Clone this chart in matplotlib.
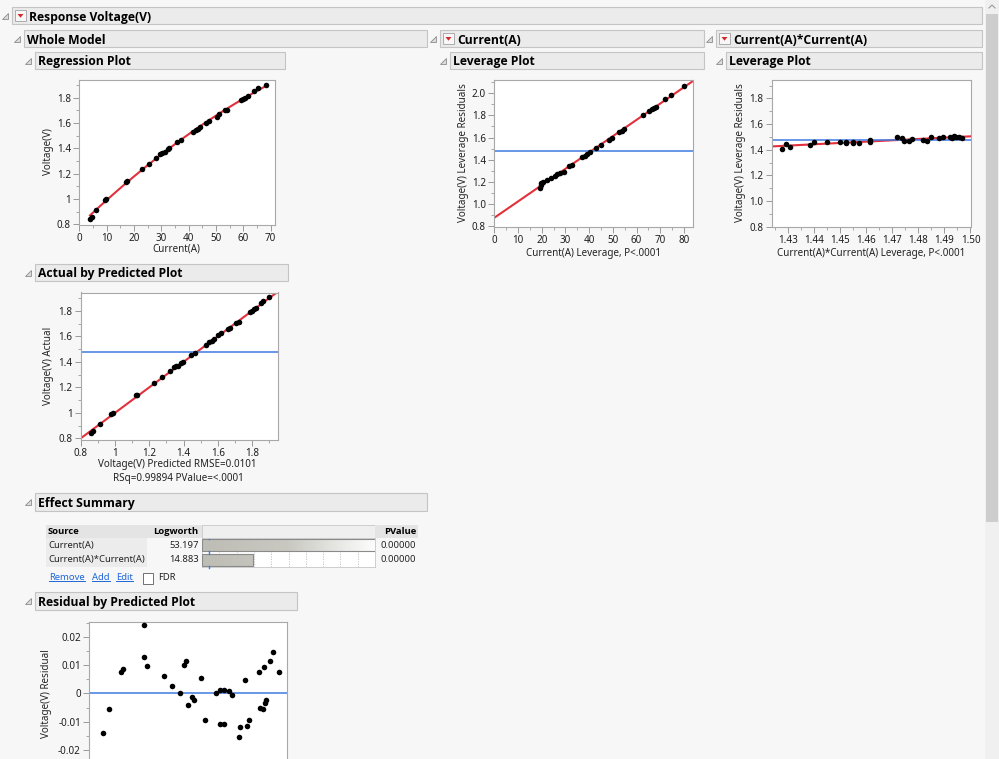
import numpy as np
import matplotlib
matplotlib.use("Agg")
import matplotlib.pyplot as plt
from matplotlib.patches import Rectangle, Polygon
from matplotlib.lines import Line2D
from matplotlib.ticker import MultipleLocator, AutoMinorLocator, FuncFormatter

# regression plot: Current(A) vs Voltage(V)
reg_current = [3.9, 4.5, 6.1, 9.3, 9.9, 17.0, 17.6, 22.9, 25.5, 28.1, 29.7, 30.3, 31.2, 32.4,
               33.0, 35.8, 37.2, 41.5, 42.7, 43.3, 44.1, 46.3, 47.5, 50.3, 51.2, 53.2, 54.2,
               59.0, 60.0, 60.8, 61.7, 63.9, 65.5, 68.4]
reg_voltage = [0.846, 0.862, 0.915, 0.995, 1.005, 1.138, 1.146, 1.238, 1.278, 1.323, 1.358, 1.366,
               1.371, 1.392, 1.403, 1.450, 1.464, 1.530, 1.543, 1.556, 1.570, 1.601, 1.615, 1.649,
               1.668, 1.702, 1.707, 1.781, 1.789, 1.800, 1.813, 1.853, 1.874, 1.900]

# actual by predicted
avp_pred = [0.86, 0.874, 0.913, 0.977, 0.99, 1.122, 1.13, 1.227, 1.276, 1.32, 1.344, 1.353, 1.365,
            1.384, 1.398, 1.441, 1.466, 1.53, 1.55, 1.563, 1.577, 1.602, 1.617, 1.66, 1.67, 1.703,
            1.724, 1.786, 1.8, 1.812, 1.821, 1.849, 1.864, 1.895]
avp_actual = [0.838, 0.859, 0.911, 0.990, 1.0, 1.139, 1.141, 1.235, 1.28, 1.327, 1.356, 1.366, 1.369,
              1.39, 1.40, 1.455, 1.465, 1.533, 1.552, 1.562, 1.575, 1.607, 1.622, 1.656, 1.661, 1.706,
              1.711, 1.787, 1.797, 1.816, 1.824, 1.863, 1.873, 1.91]
mean_voltage = 1.474

# leverage plot, Current(A)
lev1_x = [19.4, 19.6, 19.8, 20.6, 22.2, 24.1, 25.5, 26.4, 27.6, 29.2, 31.3, 32.9, 36.9, 38.3, 39.2,
          40.4, 42.9, 44.8, 48.5, 49.5, 52.7, 53.8, 54.8, 62.8, 65.3, 66.3, 67.4, 68.1, 71.9, 74.4, 80.0]
lev1_y = [1.141, 1.171, 1.186, 1.201, 1.216, 1.231, 1.255, 1.267, 1.279, 1.291, 1.340, 1.349, 1.421,
          1.436, 1.448, 1.466, 1.508, 1.533, 1.578, 1.593, 1.653, 1.659, 1.674, 1.804, 1.840, 1.858,
          1.867, 1.873, 1.946, 1.985, 2.066]

# leverage plot, Current(A)*Current(A)
lev2_x = [1.4277, 1.429, 1.4305, 1.4382, 1.4398, 1.4449, 1.450, 1.4523, 1.4523, 1.4549, 1.455,
          1.457, 1.4612, 1.4612, 1.4717, 1.4736, 1.4745, 1.4762, 1.4777, 1.4819, 1.4834, 1.4848,
          1.4879, 1.4893, 1.4921, 1.4927, 1.4938, 1.4945, 1.4957, 1.4966]
lev2_y = [1.405, 1.442, 1.421, 1.436, 1.457, 1.460, 1.460, 1.462, 1.449, 1.462, 1.451, 1.455, 1.473,
          1.457, 1.499, 1.488, 1.470, 1.470, 1.486, 1.475, 1.470, 1.499, 1.490, 1.496, 1.496, 1.488,
          1.504, 1.501, 1.499, 1.494]

# residual by predicted
res_pred = [0.878, 0.917, 0.983, 0.995, 1.121, 1.121, 1.135, 1.232, 1.28, 1.327, 1.349, 1.362, 1.374,
            1.397, 1.407, 1.451, 1.474, 1.536, 1.558, 1.562, 1.581, 1.581, 1.61, 1.63, 1.669, 1.678,
            1.707, 1.717, 1.727, 1.789, 1.791, 1.808, 1.818, 1.82, 1.829, 1.853, 1.868, 1.901]
res_resid = [-0.0141, -0.0054, 0.0076, 0.0085, 0.024, 0.0127, 0.0096, 0.0061, 0.0025, 0.0, 0.010,
             0.0114, -0.0041, -0.0013, -0.0024, 0.0056, -0.0092, 0.0002, 0.0012, -0.0108, -0.0108,
             0.0012, 0.0008, -0.0004, -0.0155, -0.0118, 0.0049, -0.0115, -0.0094, 0.0076, -0.0051,
             -0.0055, 0.0092, -0.0033, -0.0024, 0.0114, 0.0147, 0.0074]

# effect summary
effect_sources = ["Current(A)", "Current(A)*Current(A)"]
effect_logworth = [53.197, 14.883]
effect_pvalue = ["0.00000", "0.00000"]

W, H = 999, 759
plt.rcParams["font.family"] = ["Noto Sans", "DejaVu Sans"]
BOLD = ["Open Sans", "Roboto", "DejaVu Sans"]
fig = plt.figure(figsize=(W / 100, H / 100), dpi=100, facecolor="#f7f7f7")

RED = "#e2303c"
BLUE = "#3f7be0"
FS = 7.1
TFS = 6.8
DOT = 16


def fbox(l, t, r, b):
    return [l / W, 1 - b / H, (r - l) / W, (b - t) / H]


def rect(l, t, r, b, fc, ec="none", lw=0.8, z=1):
    fig.add_artist(Rectangle((l / W, 1 - b / H), (r - l) / W, (b - t) / H,
                             transform=fig.transFigure, fc=fc, ec=ec, lw=lw, zorder=z))


def poly(pts, fc, ec="none", lw=0.6):
    fig.add_artist(Polygon([(x / W, 1 - y / H) for x, y in pts], closed=True,
                           transform=fig.transFigure, fc=fc, ec=ec, lw=lw, zorder=2))


def ftext(x, y, s, **kw):
    kw.setdefault("fontsize", FS)
    kw.setdefault("color", "#222222")
    return fig.text(x / W, 1 - y / H, s, **kw)


def header(l, t, r, b, title, menu=False):
    rect(l, t, r, b, "#ebebeb", "#c4c4c4")
    cy = (t + b) / 2
    cx = l - 7
    poly([(cx + 3, cy - 3), (cx + 3, cy + 3), (cx - 3, cy + 3)], "#dcdcdc", "#8c8c8c")
    tx = l + 3
    if menu:
        rect(l + 3, cy - 5.5, l + 14, cy + 5.5, "#f7f7f7", "#a0a0a0", lw=0.6, z=2)
        poly([(l + 5.5, cy - 1.5), (l + 11.5, cy - 1.5), (l + 8.5, cy + 2.2)], "#d42a2a")
        tx = l + 17
    ftext(tx, cy, title, fontsize=8.7, fontweight="bold", family=BOLD,
          va="center_baseline", ha="left", color="black")


def plot_axes(l, t, r, b):
    ax = fig.add_axes(fbox(l, t, r, b), facecolor="white")
    for s in ax.spines.values():
        s.set_color("#a8a8a8")
        s.set_linewidth(0.8)
    ax.tick_params(which="major", direction="out", length=4, width=0.7, color="#9a9a9a",
                   labelsize=FS, labelcolor="#1e1e1e", pad=2)
    ax.tick_params(which="minor", direction="out", length=2.5, width=0.6, color="#9a9a9a")
    return ax


gfmt = FuncFormatter(lambda v, p: "%g" % round(v, 4))

# scroll bar
rect(985, 0, 999, 759, "#f0f0f0")
rect(986, 14, 998, 522, "#cdcdcd")
fig.add_artist(Line2D([989 / W, 992 / W, 995 / W], [1 - 8 / H, 1 - 5 / H, 1 - 8 / H],
                      transform=fig.transFigure, color="#9a9a9a", lw=0.8))

# section headers
header(12, 7, 982, 24, "Response Voltage(V)", menu=True)
header(24, 30, 427, 47, "Whole Model")
header(440, 30, 704, 47, "Current(A)", menu=True)
header(716, 30, 982, 47, "Current(A)*Current(A)", menu=True)
header(35, 52, 285, 69, "Regression Plot")
header(450, 52, 704, 69, "Leverage Plot")
header(726, 52, 982, 69, "Leverage Plot")
header(35, 264, 288, 281, "Actual by Predicted Plot")
header(35, 493, 427, 511, "Effect Summary")
header(35, 592, 297, 610, "Residual by Predicted Plot")

# regression plot
ax = plot_axes(79.3, 80, 275, 225)
ax.scatter(reg_current, reg_voltage, s=DOT, c="black", zorder=3, linewidths=0)
coef = np.polyfit(reg_current, reg_voltage, 2)
xs = np.linspace(min(reg_current), max(reg_current), 100)
ax.plot(xs, np.polyval(coef, xs), color=RED, lw=1.5, zorder=2)
ax.set_xlim(0, 71.6)
ax.set_ylim(0.796, 1.94)
ax.xaxis.set_major_locator(MultipleLocator(10))
ax.xaxis.set_minor_locator(AutoMinorLocator(2))
ax.yaxis.set_major_locator(MultipleLocator(0.2))
ax.yaxis.set_minor_locator(AutoMinorLocator(2))
ax.yaxis.set_major_formatter(gfmt)
ftext(48, 152, "Voltage(V)", rotation=90, ha="center", va="center")
ftext(176, 249, "Current(A)", ha="center", va="center")

# actual by predicted
ax = plot_axes(80.7, 292.5, 278.3, 440)
ax.scatter(avp_pred, avp_actual, s=DOT, c="black", zorder=3, linewidths=0)
ax.axline((1, 1), slope=1, color=RED, lw=1.5, zorder=2)
ax.axhline(mean_voltage, color=BLUE, lw=1.1, zorder=2)
ax.set_xlim(0.8, 1.952)
ax.set_ylim(0.787, 1.943)
for a in (ax.xaxis, ax.yaxis):
    a.set_major_locator(MultipleLocator(0.2))
    a.set_minor_locator(AutoMinorLocator(2))
    a.set_major_formatter(gfmt)
ftext(48, 366, "Voltage(V) Actual", rotation=90, ha="center", va="center")
ftext(177, 465, "Voltage(V) Predicted RMSE=0.0101", ha="center", va="center")
ftext(178, 479, "RSq=0.99894 PValue=<.0001", ha="center", va="center")

# leverage plot Current(A)
ax = plot_axes(494.3, 80, 693.3, 226.7)
ax.scatter(lev1_x, lev1_y, s=DOT, c="black", zorder=3, linewidths=0)
c1 = np.polyfit(lev1_x, lev1_y, 1)
ax.axline((0, c1[1]), slope=c1[0], color=RED, lw=1.5, zorder=2)
ax.axhline(mean_voltage, color=BLUE, lw=1.1, zorder=2)
ax.set_xlim(0, 83.9)
ax.set_ylim(0.794, 2.12)
ax.xaxis.set_major_locator(MultipleLocator(10))
ax.xaxis.set_minor_locator(AutoMinorLocator(2))
ax.yaxis.set_major_locator(MultipleLocator(0.2))
ax.yaxis.set_minor_locator(AutoMinorLocator(2))
ax.yaxis.set_major_formatter(FuncFormatter(lambda v, p: "%.1f" % v))
ftext(463.3, 153, "Voltage(V) Leverage Residuals", rotation=90, ha="center", va="center")
ftext(594, 253.3, "Current(A) Leverage, P<.0001", ha="center", va="center")

# leverage plot Current(A)*Current(A)
ax = plot_axes(772, 80, 970.5, 226.7)
ax.scatter(lev2_x, lev2_y, s=DOT, c="black", zorder=3, linewidths=0)
c2 = np.polyfit(lev2_x, lev2_y, 1)
ax.axline((1.46, np.polyval(c2, 1.46)), slope=c2[0], color=RED, lw=1.5, zorder=2)
ax.axhline(mean_voltage, color=BLUE, lw=1.1, zorder=2)
ax.set_xlim(1.4237, 1.50)
ax.set_ylim(0.8, 1.943)
ax.xaxis.set_major_locator(MultipleLocator(0.01))
ax.xaxis.set_minor_locator(AutoMinorLocator(2))
ax.xaxis.set_major_formatter(FuncFormatter(lambda v, p: "%.2f" % v))
ax.yaxis.set_major_locator(MultipleLocator(0.2))
ax.yaxis.set_minor_locator(AutoMinorLocator(2))
ax.yaxis.set_major_formatter(FuncFormatter(lambda v, p: "%.1f" % v))
ftext(740.7, 153, "Voltage(V) Leverage Residuals", rotation=90, ha="center", va="center")
ftext(871, 253.3, "Current(A)*Current(A) Leverage, P<.0001", ha="center", va="center")

# residual by predicted (runs off the bottom of the window, x labels not visible)
ax = plot_axes(89.3, 621.7, 287.3, 768)
ax.scatter(res_pred, res_resid, s=DOT, c="black", zorder=3, linewidths=0)
ax.axhline(0, color=BLUE, lw=1.1, zorder=2)
ax.set_xlim(0.8, 1.952)
ax.set_ylim(-0.0263, 0.0253)
ax.yaxis.set_major_locator(MultipleLocator(0.01))
ax.yaxis.set_minor_locator(AutoMinorLocator(2))
ax.yaxis.set_major_formatter(gfmt)
ax.xaxis.set_major_locator(MultipleLocator(0.2))
ax.tick_params(axis="x", labelbottom=False)
ftext(46.7, 694, "Voltage(V) Residual", rotation=90, ha="center", va="center")

# effect summary table
rect(46, 525, 147, 538, "#e4e4e4")
rect(147, 525, 202, 538, "#e4e4e4")
rect(202, 525, 375, 538, "#efefef", "#c8c8c8", lw=0.6)
rect(375, 525, 418, 538, "#e4e4e4")
ftext(48, 531.5, "Source", fontsize=TFS, fontweight="bold", family=BOLD, va="center", color="black")
ftext(198, 531.5, "Logworth", fontsize=TFS, fontweight="bold", family=BOLD, va="center", ha="right", color="black")
ftext(416, 531.5, "PValue", fontsize=TFS, fontweight="bold", family=BOLD, va="center", ha="right", color="black")
for i, src in enumerate(effect_sources):
    top = 538 + i * 14.5
    rect(46, top, 147, top + 14.5, "#ececec")
    ftext(48, top + 7.2, src, fontsize=TFS, va="center")
    ftext(199, top + 7.2, "%.3f" % effect_logworth[i], fontsize=TFS, va="center", ha="right")
    ftext(416, top + 7.2, effect_pvalue[i], fontsize=TFS, va="center", ha="right")

bx = fig.add_axes(fbox(202, 538, 375, 567), facecolor="white")
for s in bx.spines.values():
    s.set_color("#c8c8c8")
    s.set_linewidth(0.6)
bx.set_xticks([])
bx.set_yticks([])
for g in range(5, 50, 5):
    bx.axvline(g, color="#bdbdbd", lw=0.6, ls=(0, (1.5, 1.5)), zorder=1)
bars = bx.barh(range(len(effect_sources)), effect_logworth, height=0.82,
               color="none", edgecolor="#8a8a8a", lw=0.8, zorder=3)
grad = np.linspace(0, 1, 256).reshape(1, -1)
gcmap = matplotlib.colors.LinearSegmentedColormap.from_list("g", ["#bdbdb5", "#c9c9c2", "#fdfdfd"])
for bar in bars:
    im = bx.imshow(grad, extent=(0, 50, 1.5, -0.5), aspect="auto", cmap=gcmap, zorder=2)
    im.set_clip_path(bar)
bx.set_xlim(0, 50)
bx.set_ylim(1.5, -0.5)
for yy in (-0.5, 0.5, 1.5):
    bx.plot([2, 2], [yy - 0.08, yy + 0.08], color=BLUE, lw=1.0, zorder=4, clip_on=False)

# links + FDR checkbox
links = [ftext(x, 578, s, fontsize=TFS, color="#1f66d6", va="center")
         for x, s in [(49, "Remove"), (92, "Add"), (116, "Edit")]]
rect(143, 573, 153, 583.5, "white", "#707070", lw=0.7)
ftext(158, 578, "FDR", fontsize=TFS, va="center")

fig.canvas.draw()
for t in links:
    bb = t.get_window_extent()
    fig.add_artist(Line2D([bb.x0 / W, bb.x1 / W], [(bb.y0 + 1.5) / H] * 2,
                          transform=fig.transFigure, color="#1f66d6", lw=0.7))

fig.savefig("out.png", dpi=100, facecolor=fig.get_facecolor())
